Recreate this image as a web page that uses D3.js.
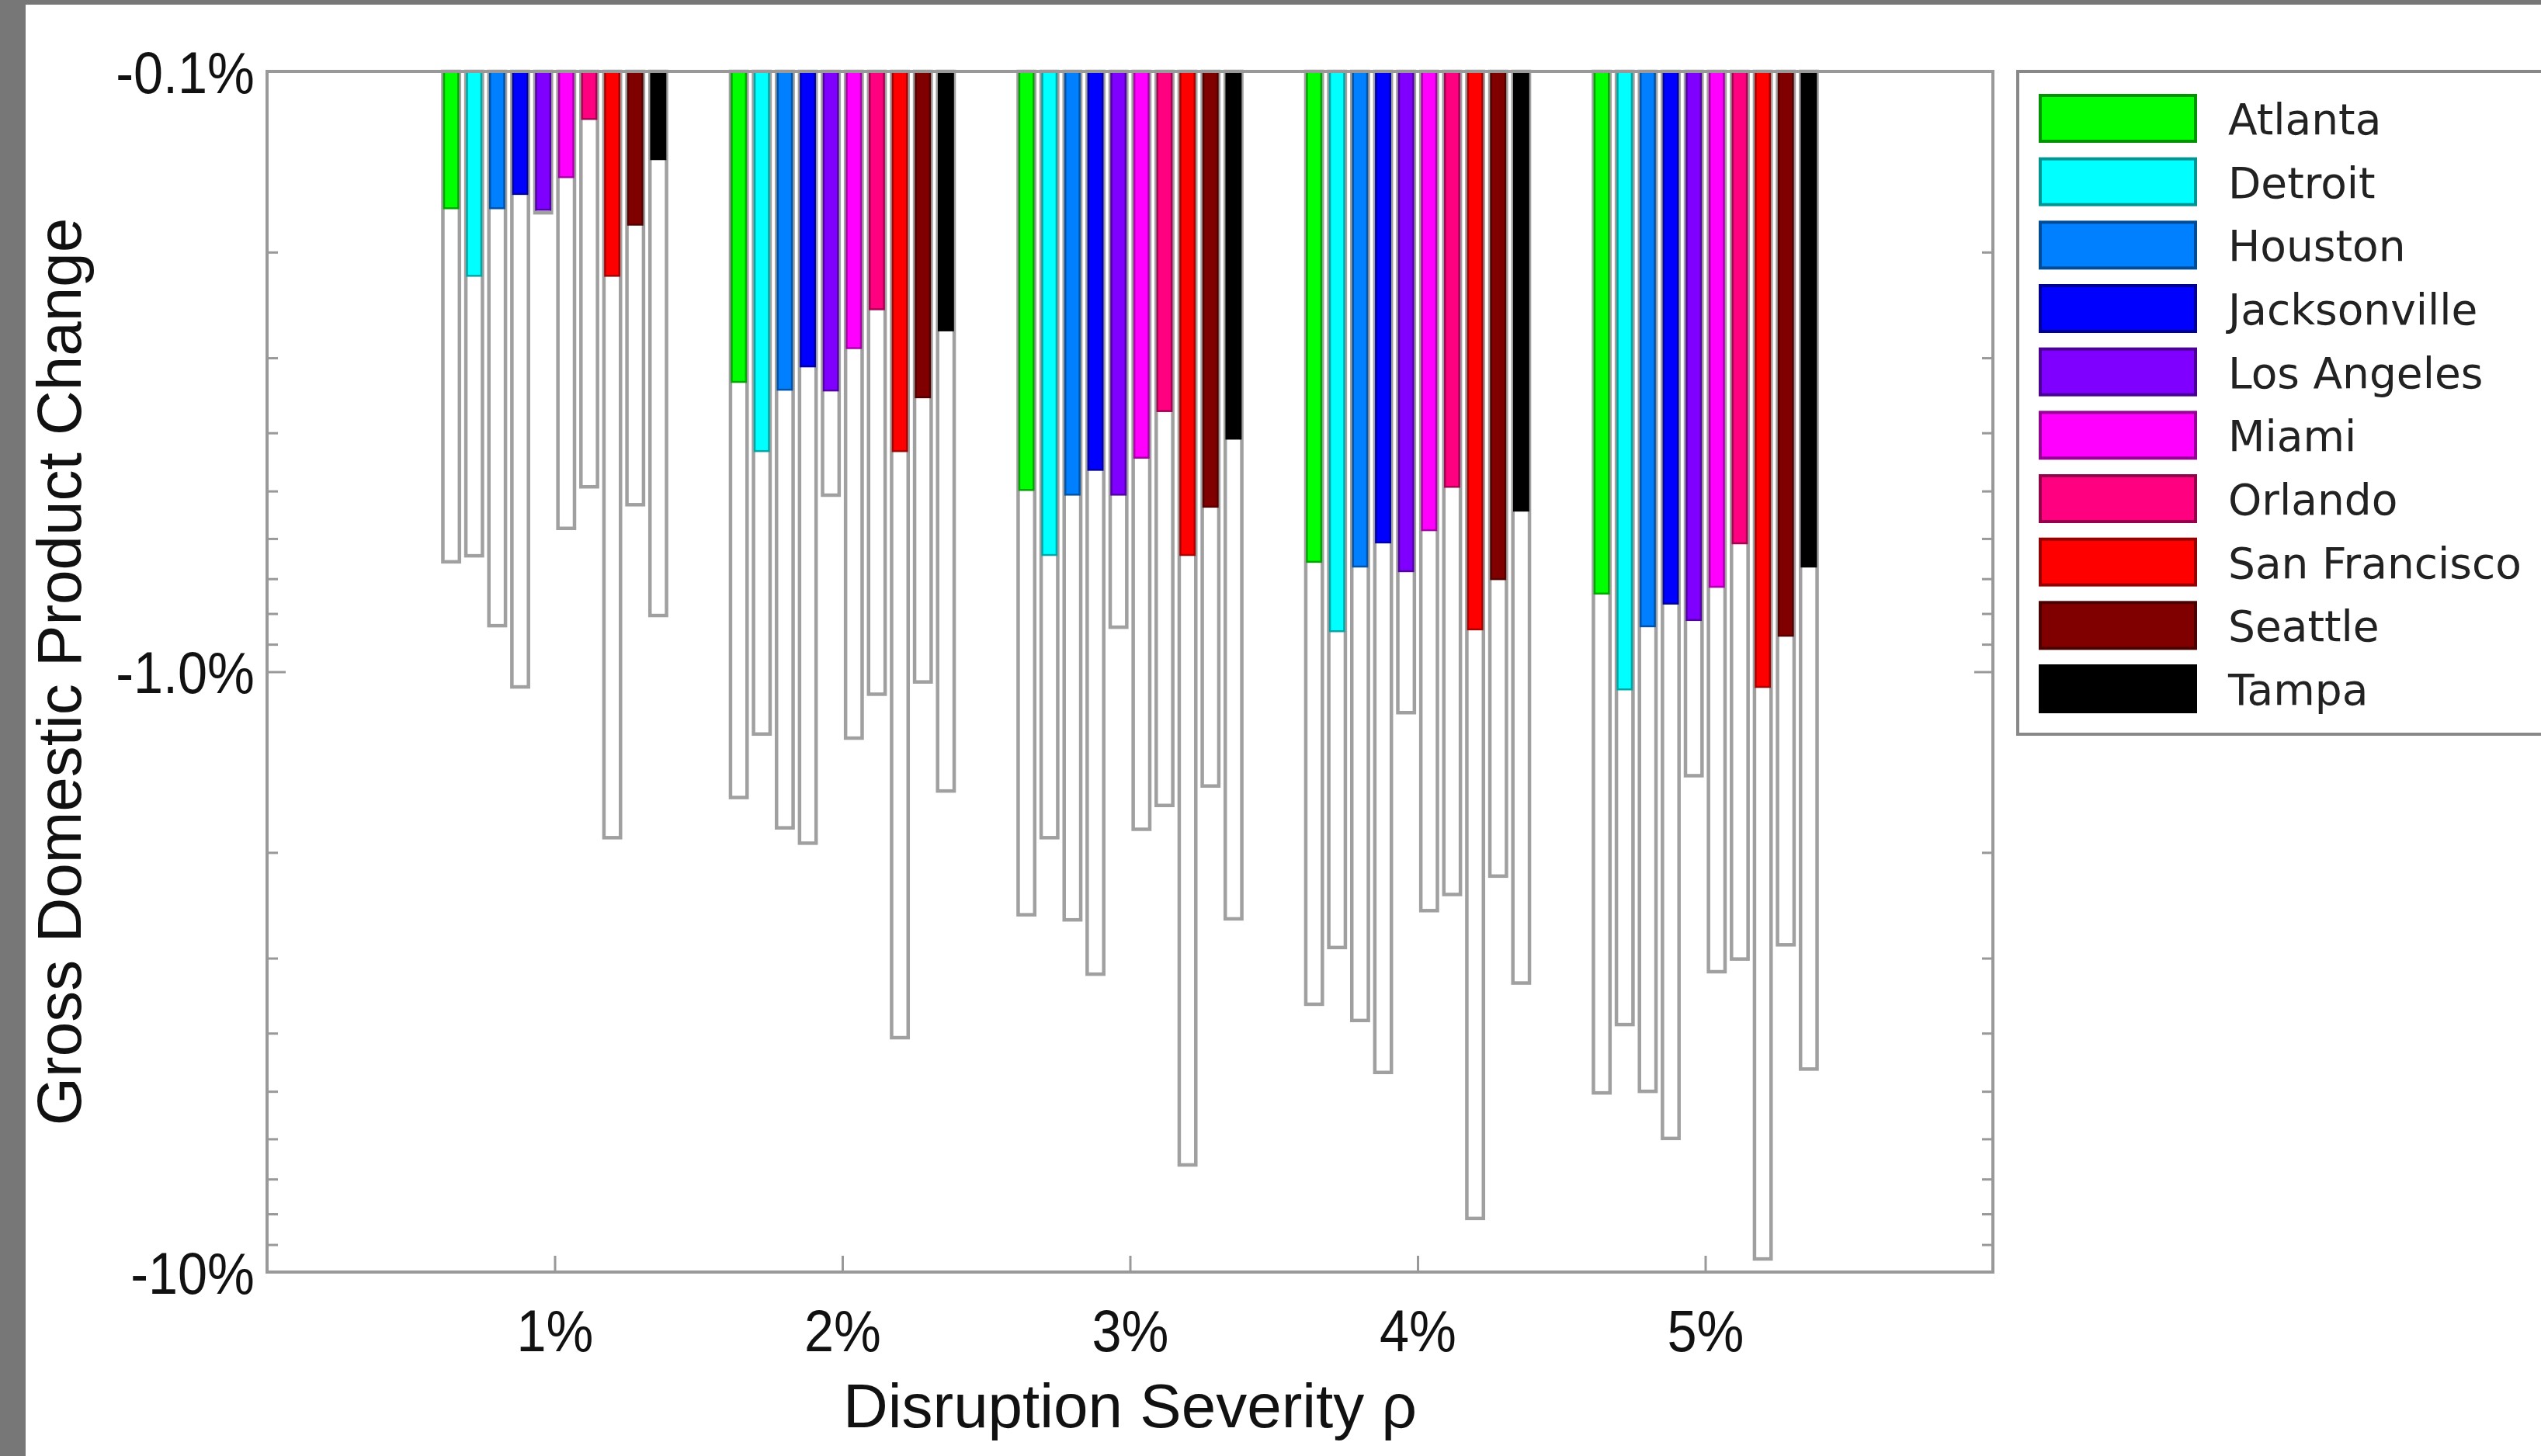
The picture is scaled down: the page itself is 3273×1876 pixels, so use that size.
<!DOCTYPE html>
<html>
<head>
<meta charset="utf-8">
<script src="https://cdn.jsdelivr.net/npm/d3@7"></script>
<style>
  body { margin: 0; background: #fff; }
  svg { display: block; }
</style>
</head>
<body>
<svg width="3273" height="1876"></svg>
<script>
// Datos del gráfico
const cities = ["Atlanta", "Detroit", "Houston", "Jacksonville", "Los Angeles",
  "Miami", "Orlando", "San Francisco", "Seattle", "Tampa"];
const cityColors = ["#00ff00", "#00ffff", "#0080ff", "#0000ff", "#8000ff",
  "#ff00ff", "#ff0080", "#ff0000", "#800000", "#000000"];
const severities = [1, 2, 3, 4, 5];
const severityLabels = ["1%", "2%", "3%", "4%", "5%"];

// GDP change (%) per severity, one value per city - coloured bars
const gdpChangeColored = [
  [-0.169, -0.219, -0.169, -0.160, -0.170, -0.150, -0.120, -0.219, -0.180, -0.140],
  [-0.329, -0.429, -0.339, -0.310, -0.340, -0.289, -0.249, -0.429, -0.349, -0.270],
  [-0.498, -0.639, -0.507, -0.461, -0.507, -0.440, -0.368, -0.639, -0.531, -0.409],
  [-0.656, -0.856, -0.668, -0.609, -0.680, -0.581, -0.492, -0.850, -0.701, -0.539],
  [-0.741, -1.07, -0.840, -0.770, -0.820, -0.722, -0.611, -1.06, -0.871, -0.668]
];
// GDP change (%) per severity, one value per city - outlined bars
const gdpChangeOutline = [
  [-0.656, -0.641, -0.838, -1.06, -0.172, -0.577, -0.492, -1.89, -0.527, -0.806],
  [-1.62, -1.27, -1.82, -1.93, -0.508, -1.29, -1.09, -4.07, -1.04, -1.58],
  [-2.54, -1.89, -2.59, -3.19, -0.843, -1.83, -1.67, -6.63, -1.55, -2.58],
  [-3.58, -2.88, -3.81, -4.65, -1.17, -2.50, -2.35, -8.14, -2.19, -3.30],
  [-5.03, -3.87, -5.00, -5.99, -1.49, -3.16, -3.01, -9.51, -2.85, -4.59]
];
const yTickValues = [-0.1, -1, -10];
const yTickLabels = ["-0.1%", "-1.0%", "-10%"];

const width = 3273, height = 1876;
const plot = { left: 344, right: 2567, top: 92, bottom: 1639 };
const svg = d3.select("svg");

// marco gris de la imagen
svg.append("rect").attr("x", 0).attr("y", 0).attr("width", width).attr("height", height).attr("fill", "#fff");
svg.append("rect").attr("x", 0).attr("y", 0).attr("width", 33).attr("height", height).attr("fill", "#777");
svg.append("rect").attr("x", 0).attr("y", 0).attr("width", width).attr("height", 6).attr("fill", "#777");

const x = d3.scaleLinear().domain([0, 6]).range([plot.left, plot.right]);
const inner = d3.scaleBand().domain(cities).range([-0.4, 0.4]).paddingInner(0.28).paddingOuter(0.14);
const y = d3.scaleLog().domain([-0.1, -10]).range([plot.top, plot.bottom]);
const color = d3.scaleOrdinal().domain(cities).range(cityColors);
const barW = x(inner.bandwidth()) - x(0);

const bars = severities.flatMap((s, i) => cities.map((c, j) => ({
  s, c, colored: gdpChangeColored[i][j], outline: gdpChangeOutline[i][j]
})));

// barras blancas (contorno gris)
svg.append("g").selectAll("rect").data(bars).enter().append("rect")
  .attr("x", d => x(d.s + inner(d.c)))
  .attr("y", y(-0.1))
  .attr("width", barW)
  .attr("height", d => y(d.outline) - y(-0.1))
  .attr("fill", "#fff")
  .attr("stroke", "#a0a0a0")
  .attr("stroke-width", 4.5);

// barras de color
svg.append("g").selectAll("rect").data(bars).enter().append("rect")
  .attr("x", d => x(d.s + inner(d.c)) + 1.5)
  .attr("y", y(-0.1))
  .attr("width", barW - 3)
  .attr("height", d => y(d.colored) - y(-0.1))
  .attr("fill", d => color(d.c))
  .attr("stroke", d => d3.color(color(d.c)).darker(1.2))
  .attr("stroke-width", 2.5);

// ejes
const yMinor = y.ticks().filter(v => Math.abs(Math.log10(-v) - Math.round(Math.log10(-v))) > 1e-6);
const styleAxis = g => {
  g.select(".domain").remove();
  g.selectAll("line").attr("stroke", "#999").attr("stroke-width", 3);
  g.selectAll("text").attr("fill", "#111").attr("font-family", "'Liberation Sans', Arial, sans-serif")
    .attr("font-size", 76).attr("transform", "scale(0.9,1)");
};

svg.append("g").attr("transform", `translate(${plot.left},0)`)
  .call(d3.axisLeft(y).tickValues(yMinor).tickSize(-14).tickFormat("")).call(styleAxis);
svg.append("g").attr("transform", `translate(${plot.left},0)`)
  .call(d3.axisLeft(y).tickValues(yTickValues).tickSize(-24).tickPadding(18)
    .tickFormat((d, i) => yTickLabels[i])).call(styleAxis)
  .selectAll("text").attr("dy", "0.36em");
svg.append("g").attr("transform", `translate(${plot.right},0)`)
  .call(d3.axisRight(y).tickValues(yMinor).tickSize(-14).tickFormat("")).call(styleAxis);
svg.append("g").attr("transform", `translate(${plot.right},0)`)
  .call(d3.axisRight(y).tickValues(yTickValues).tickSize(-24).tickFormat("")).call(styleAxis);
svg.append("g").attr("transform", `translate(0,${plot.bottom})`)
  .call(d3.axisBottom(x).tickValues(severities).tickSize(-21).tickPadding(48)
    .tickFormat((d, i) => severityLabels[i])).call(styleAxis);

// caja de los ejes
svg.append("rect")
  .attr("x", plot.left).attr("y", plot.top)
  .attr("width", plot.right - plot.left).attr("height", plot.bottom - plot.top)
  .attr("fill", "none").attr("stroke", "#999").attr("stroke-width", 4);

// títulos
svg.append("text")
  .attr("x", (plot.left + plot.right) / 2).attr("y", 1839)
  .attr("text-anchor", "middle")
  .attr("font-family", "'Liberation Sans', Arial, sans-serif").attr("font-size", 80).attr("fill", "#111")
  .text("Disruption Severity ρ");
svg.append("text")
  .attr("transform", `translate(104,${(plot.top + plot.bottom) / 2}) rotate(-90)`)
  .attr("text-anchor", "middle")
  .attr("font-family", "'Liberation Sans', Arial, sans-serif").attr("font-size", 80).attr("fill", "#111")
  .text("Gross Domestic Product Change");

// leyenda
const legendY = d3.scaleLinear().domain([0, cities.length - 1]).range([123, 858]);
svg.append("rect")
  .attr("x", 2599).attr("y", 92).attr("width", 720).attr("height", 854)
  .attr("fill", "#fff").attr("stroke", "#888").attr("stroke-width", 4);
const legend = svg.append("g").selectAll("g").data(cities).enter().append("g")
  .attr("transform", (d, i) => `translate(2628,${legendY(i)})`);
legend.append("rect")
  .attr("width", 200).attr("height", 59)
  .attr("fill", d => color(d))
  .attr("stroke", d => d3.color(color(d)).darker(1.5))
  .attr("stroke-width", 4);
legend.append("text")
  .attr("x", 242).attr("y", 50)
  .attr("font-family", "'DejaVu Sans', sans-serif").attr("font-size", 55).attr("fill", "#222")
  .text(d => d);
</script>
</body>
</html>
